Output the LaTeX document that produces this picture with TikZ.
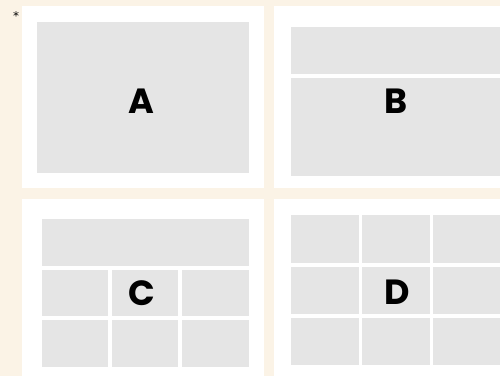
\documentclass[tikz,border=0pt]{standalone}
\usepackage{fontspec}
\setmainfont{Poppins}
\newfontfamily\letterfont{Poppins}[UprightFont=* Bold]
\newfontfamily\starfont{DejaVu Sans}
\definecolor{bgbeige}{HTML}{FBF3E6}
\definecolor{cellgray}{HTML}{E5E5E5}
\begin{document}
\begin{tikzpicture}[x=1pt,y=-1pt,
  panel/.style={fill=white,draw=none},
  cell/.style={fill=cellgray,draw=none},
  letter/.style={font=\letterfont\fontsize{35}{35}\selectfont,inner sep=0pt,anchor=center}]
\fill[bgbeige] (0,0) rectangle (500,376);
\useasboundingbox (0,0) rectangle (500,376);
% panels
\fill[panel] (22,6) rectangle (264,188);
\fill[panel] (274,6) rectangle (500,188);
\fill[panel] (22,199) rectangle (264,376);
\fill[panel] (274,199) rectangle (500,376);
% A
\fill[cell] (37,22) rectangle (249,173);
% B
\fill[cell] (291,27) rectangle (500,74);
\fill[cell] (291,78) rectangle (500,176);
% C
\fill[cell] (42,219) rectangle (249,266);
\foreach \ya/\yb in {270/316,320/367}{
  \fill[cell] (42,\ya) rectangle (108,\yb);
  \fill[cell] (112,\ya) rectangle (178,\yb);
  \fill[cell] (182,\ya) rectangle (249,\yb);
}
% D
\foreach \ya/\yb in {215/263,267/314,318/365}{
  \fill[cell] (291,\ya) rectangle (359,\yb);
  \fill[cell] (362,\ya) rectangle (430,\yb);
  \fill[cell] (433,\ya) rectangle (500,\yb);
}
\node[letter] (la) at (141.5,101) {A};
\node[letter] (lb) at (396,101) {B};
\node[letter] (lc) at (142,293) {C};
\node[letter] (ld) at (397,292) {D};
\node[font=\starfont\fontsize{12}{12}\selectfont,inner sep=0pt] (star) at (16,16) {*};
\end{tikzpicture}
\end{document}
